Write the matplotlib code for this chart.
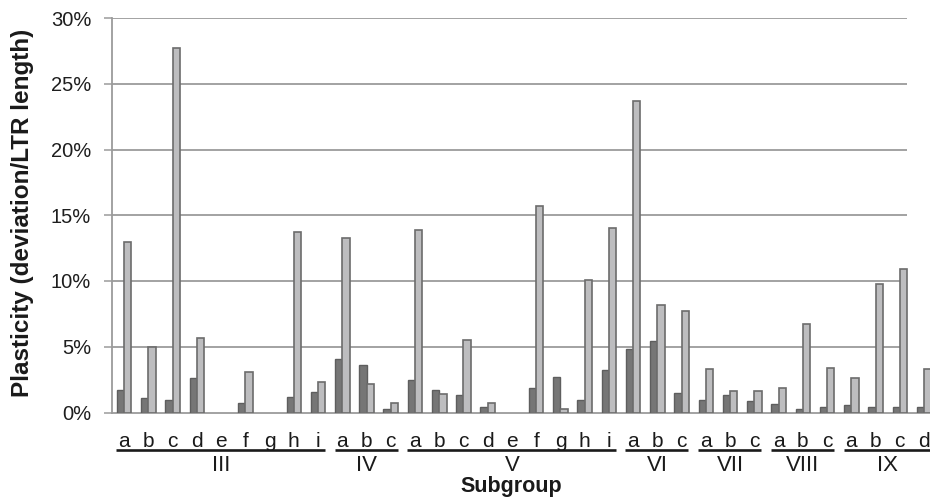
import matplotlib
matplotlib.use("Agg")
import matplotlib.pyplot as plt
import matplotlib.transforms as mtransforms
import numpy as np

plt.rcParams["font.family"] = ["Liberation Sans", "DejaVu Sans"]

# subgroups and their members
groups = ["III", "IV", "V", "VI", "VII", "VIII", "IX"]
members = [
    ["a", "b", "c", "d", "e", "f", "g", "h", "i"],
    ["a", "b", "c"],
    ["a", "b", "c", "d", "e", "f", "g", "h", "i"],
    ["a", "b", "c"],
    ["a", "b", "c"],
    ["a", "b", "c"],
    ["a", "b", "c", "d"],
]

# plasticity in percent, dark and light series
dark_vals = [1.7, 1.1, 0.95, 2.65, 0, 0.75, 0, 1.2, 1.55,
             4.1, 3.6, 0.3,
             2.5, 1.7, 1.3, 0.4, 0, 1.85, 2.7, 0.95, 3.25,
             4.8, 5.4, 1.45,
             0.95, 1.3, 0.85,
             0.65, 0.25, 0.4,
             0.55, 0.45, 0.45, 0.4]
light_vals = [13.0, 5.0, 27.75, 5.7, 0, 3.1, 0, 13.75, 2.3,
              13.3, 2.2, 0.7,
              13.9, 1.4, 5.55, 0.7, 0, 15.7, 0.3, 10.1, 14.05,
              23.7, 8.15, 7.7,
              3.3, 1.6, 1.65,
              1.9, 6.75, 3.4,
              2.65, 9.75, 10.95, 3.3]

letters = [m for grp in members for m in grp]
x = np.arange(len(letters))
dark = np.array(dark_vals)
light = np.array(light_vals)

W, H = 930, 501
fig = plt.figure(figsize=(W / 100, H / 100), dpi=100)
ax = fig.add_axes([112 / W, 88.5 / H, (W - 112) / W, 394.5 / H])

# empty categories get no bar at all
bw = 0.3
dm = dark > 0
lm = light > 0
ax.bar(x[dm] - bw / 2, dark[dm], bw, color="#767676", edgecolor="#5e5e5e",
       linewidth=1.0, zorder=3)
ax.bar(x[lm] + bw / 2, light[lm], bw, color="#bdbdbf", edgecolor="#6c6c6c",
       linewidth=1.2, zorder=3)

ax.set_xlim(-0.5, -0.5 + (W - 112) / 24.24)
ax.set_ylim(0, 30)

# horizontal gridlines stop short of the right edge
ax.hlines(np.arange(5, 31, 5), -0.5, 32.3, color="#9b9b9b", linewidth=1.3,
          zorder=1)

ax.set_yticks(np.arange(0, 31, 5))
ax.set_yticklabels([f"{v}%" for v in range(0, 31, 5)])
ax.tick_params(axis="y", length=6, width=1.1, color="#9b9b9b", pad=9,
               labelsize=14.5, labelcolor="#1e1e1e")
ax.set_xticks([])

for side in ["top", "right"]:
    ax.spines[side].set_visible(False)
ax.spines["left"].set_color("#9b9b9b")
ax.spines["left"].set_linewidth(1.3)
ax.spines["bottom"].set_color("#9b9b9b")
ax.spines["bottom"].set_linewidth(1.3)

trans = mtransforms.blended_transform_factory(ax.transData, ax.transAxes)

# letter labels under each category
for xi, lab in zip(x, letters):
    ax.text(xi, -0.0875, lab, transform=trans, ha="center", va="baseline",
            fontsize=15, color="#1a1a1a")

# underline and roman numeral per subgroup
start = 0
for name, grp in zip(groups, members):
    end = start + len(grp) - 1
    ax.plot([start - 0.32, end + 0.28], [-0.094, -0.094], transform=trans,
            color="#1a1a1a", linewidth=1.9, clip_on=False,
            solid_capstyle="butt")
    ax.text((start + end) / 2, -0.149, name, transform=trans, ha="center",
            va="baseline", fontsize=16, color="#1a1a1a")
    start = end + 1

fig.text(511 / W, (H - 492) / H, "Subgroup", ha="center", va="baseline",
         fontsize=15.5, fontweight="bold", color="#1a1a1a")
fig.text(23 / W, 1 - 213 / H, "Plasticity (deviation/LTR length)",
         rotation=90, ha="center", va="center", fontsize=17.5,
         fontweight="bold", color="#1a1a1a")

fig.savefig("out.png", dpi=100)
